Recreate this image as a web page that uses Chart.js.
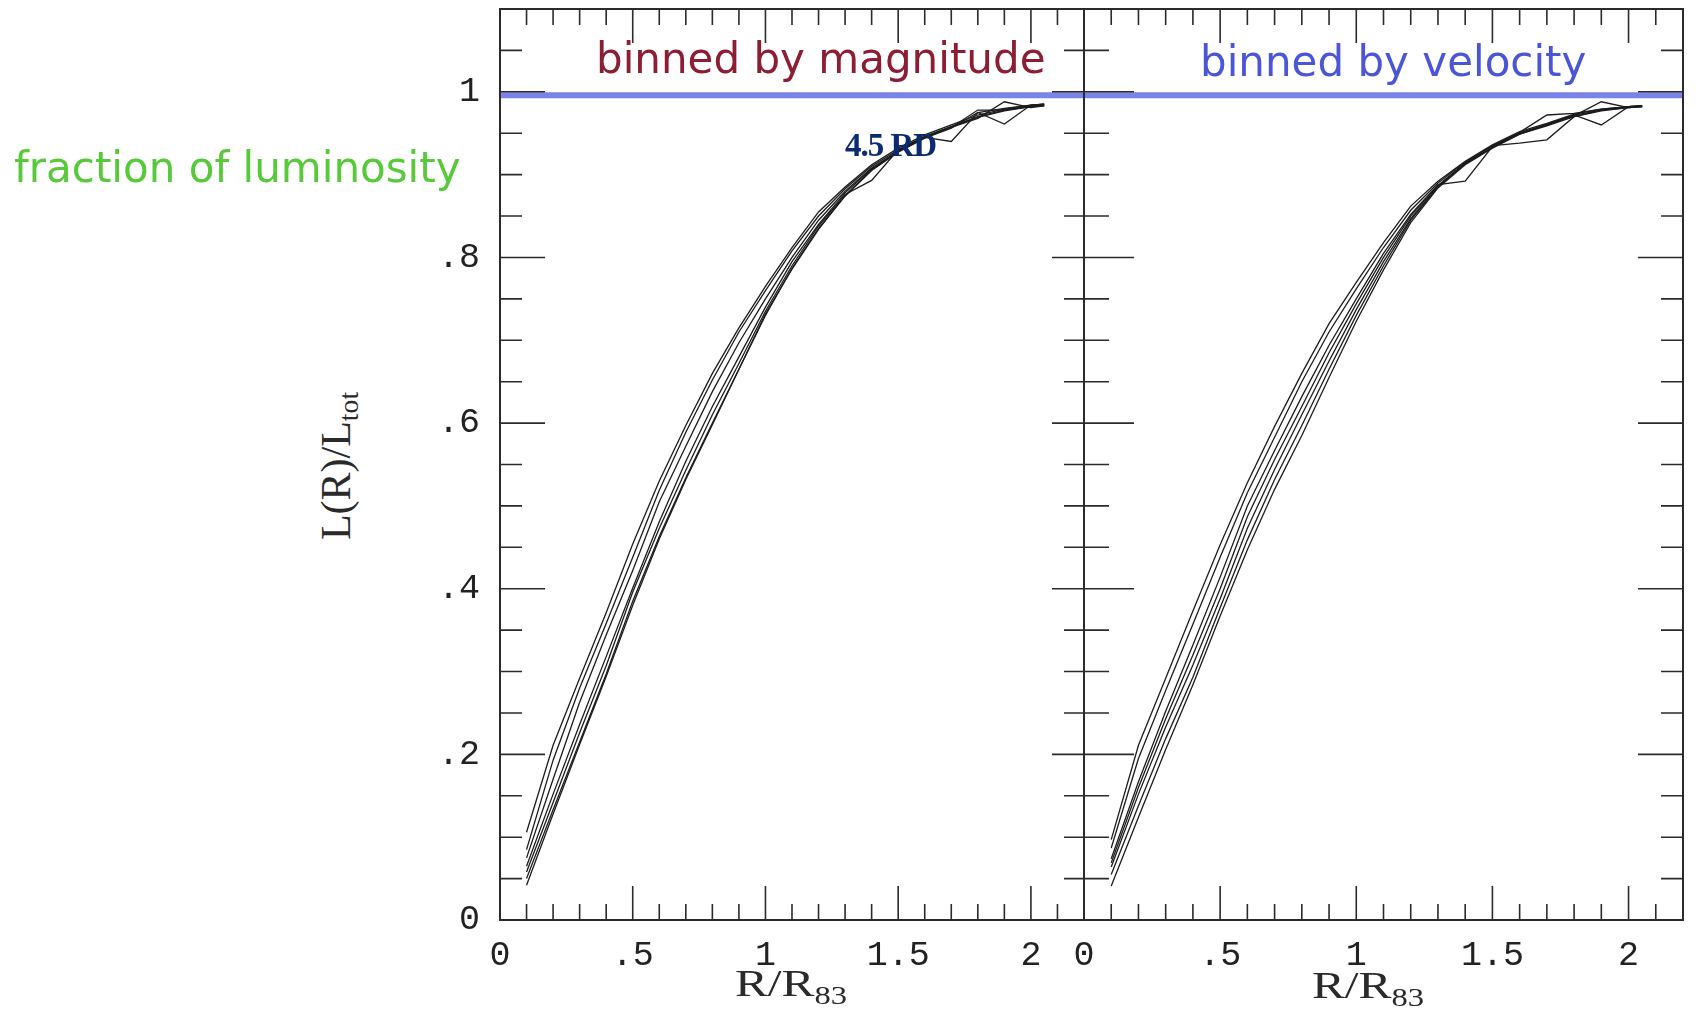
<!DOCTYPE html>
<html>
<head>
<meta charset="utf-8">
<script src="https://cdn.jsdelivr.net/npm/chart.js@4.4.1/dist/chart.umd.min.js"></script>
<style>
  html, body { margin: 0; padding: 0; background: #fff; }
  body { position: relative; width: 1700px; height: 1009px; overflow: hidden; }
  canvas { position: absolute; top: 0; }
  #magChart { left: 380px; }
  #velChart { left: 1040px; }
  .note { position: absolute; white-space: nowrap; line-height: 1; }
  .bin-title { font-family: "DejaVu Sans", sans-serif; font-size: 42px; }
  .axis-title { font-family: "Liberation Serif", serif; font-size: 38px; color: #2a2a2a; }
  .axis-title sub { font-size: 0.66em; vertical-align: -0.3em; line-height: 0; }
</style>
</head>
<body>
<canvas id="magChart" width="720" height="1009"></canvas>
<canvas id="velChart" width="660" height="1009"></canvas>

<div class="note bin-title" style="left:596px; top:38px; color:#8c1d33;">binned by magnitude</div>
<div class="note bin-title" style="left:1200px; top:41px; color:#4b56d6;">binned by velocity</div>
<div class="note bin-title" style="left:14px; top:147px; color:#58c93b;">fraction of luminosity</div>
<div class="note" style="left:845px; top:127px; font: bold 33px 'Liberation Serif', serif; letter-spacing:-1px; color:#0b2a72;">4.5 RD</div>

<div class="note axis-title" style="left:336px; top:466px; font-size:42px; transform: translate(-50%, -50%) rotate(-90deg);">L(R)/L<sub>tot</sub></div>
<div class="note axis-title" style="left:791px; top:964px; transform: translateX(-50%) scaleX(1.3);">R/R<sub>83</sub></div>
<div class="note axis-title" style="left:1368px; top:966px; transform: translateX(-50%) scaleX(1.3);">R/R<sub>83</sub></div>

<script>
// radius in units of R83, shared by every profile
const radius = [0.1, 0.2, 0.3, 0.4, 0.5, 0.6, 0.7, 0.8, 0.9, 1.0, 1.1, 1.2, 1.3, 1.4, 1.5, 1.6, 1.7, 1.8, 1.9, 2.0, 2.05];

// cumulative light profiles, binned by magnitude
const magA = [0.106, 0.211, 0.292, 0.371, 0.454, 0.530, 0.597, 0.660, 0.715, 0.765, 0.812, 0.855, 0.885, 0.912, 0.932, 0.948, 0.960, 0.972, 0.979, 0.984, 0.985];
const magB = [0.085, 0.193, 0.280, 0.358, 0.438, 0.519, 0.589, 0.652, 0.710, 0.760, 0.808, 0.850, 0.883, 0.910, 0.930, 0.946, 0.958, 0.970, 0.978, 0.983, 0.984];
const magC = [0.075, 0.170, 0.263, 0.344, 0.422, 0.505, 0.572, 0.638, 0.697, 0.750, 0.800, 0.845, 0.880, 0.908, 0.928, 0.945, 0.940, 0.975, 0.980, 0.984, 0.985];
const magD = [0.065, 0.152, 0.236, 0.318, 0.401, 0.481, 0.554, 0.620, 0.680, 0.740, 0.795, 0.840, 0.878, 0.907, 0.928, 0.945, 0.957, 0.978, 0.978, 0.982, 0.984];
const magE = [0.058, 0.142, 0.226, 0.307, 0.396, 0.473, 0.543, 0.610, 0.672, 0.735, 0.790, 0.838, 0.876, 0.893, 0.930, 0.946, 0.958, 0.969, 0.977, 0.982, 0.983];
const magF = [0.050, 0.133, 0.215, 0.297, 0.385, 0.463, 0.534, 0.600, 0.665, 0.730, 0.787, 0.835, 0.874, 0.905, 0.927, 0.944, 0.956, 0.975, 0.961, 0.984, 0.985];
const magG = [0.042, 0.128, 0.212, 0.294, 0.380, 0.460, 0.532, 0.598, 0.665, 0.732, 0.786, 0.834, 0.875, 0.906, 0.929, 0.945, 0.957, 0.968, 0.988, 0.981, 0.983];

// cumulative light profiles, binned by velocity
const velA = [0.097, 0.211, 0.292, 0.373, 0.453, 0.528, 0.596, 0.660, 0.720, 0.770, 0.818, 0.862, 0.892, 0.916, 0.936, 0.952, 0.962, 0.973, 0.979, 0.982, 0.983];
const velB = [0.087, 0.195, 0.277, 0.357, 0.438, 0.516, 0.583, 0.650, 0.710, 0.762, 0.812, 0.857, 0.890, 0.915, 0.935, 0.951, 0.972, 0.974, 0.979, 0.982, 0.983];
const velC = [0.074, 0.167, 0.252, 0.332, 0.414, 0.500, 0.567, 0.632, 0.694, 0.750, 0.805, 0.852, 0.888, 0.892, 0.934, 0.950, 0.961, 0.972, 0.978, 0.981, 0.982];
const velD = [0.069, 0.160, 0.243, 0.320, 0.400, 0.487, 0.556, 0.620, 0.685, 0.744, 0.800, 0.850, 0.887, 0.914, 0.935, 0.938, 0.942, 0.970, 0.978, 0.982, 0.983];
const velE = [0.064, 0.152, 0.233, 0.308, 0.388, 0.473, 0.544, 0.610, 0.675, 0.737, 0.795, 0.847, 0.886, 0.913, 0.933, 0.950, 0.960, 0.972, 0.960, 0.982, 0.983];
const velF = [0.055, 0.138, 0.219, 0.293, 0.377, 0.459, 0.532, 0.597, 0.665, 0.730, 0.790, 0.845, 0.885, 0.913, 0.933, 0.949, 0.960, 0.971, 0.988, 0.981, 0.982];
const velG = [0.041, 0.124, 0.206, 0.284, 0.367, 0.447, 0.520, 0.585, 0.655, 0.723, 0.785, 0.842, 0.884, 0.912, 0.932, 0.949, 0.959, 0.970, 0.977, 0.981, 0.982];

// tick positions and labels
const xLabelValues = [0, 0.5, 1, 1.5, 2];
const yLabelValues = [0, 0.2, 0.4, 0.6, 0.8, 1];
const xMinorTicks = [0.1, 0.2, 0.3, 0.4, 0.5, 0.6, 0.7, 0.8, 0.9, 1.0, 1.1, 1.2, 1.3, 1.4, 1.5, 1.6, 1.7, 1.8, 1.9, 2.0, 2.1];
const xMajorTicks = [0.5, 1.0, 1.5, 2.0];
const yMinorTicks = [0.05, 0.1, 0.15, 0.2, 0.25, 0.3, 0.35, 0.4, 0.45, 0.5, 0.55, 0.6, 0.65, 0.7, 0.75, 0.8, 0.85, 0.9, 0.95, 1.0, 1.05];
const yMajorTicks = [0.2, 0.4, 0.6, 0.8, 1.0];

// the highlighted total-light level
const totalLevel = 0.996;

const isMajor = (list, v) => list.some(m => Math.abs(m - v) < 1e-6);

// ".5" style labels, no leading zero
function plotterLabel(v) {
  if (v === 0) return "0";
  return v < 1 ? String(v).replace(/^0/, "") : String(v);
}

// box frame with inward ticks on every side, like the old plotter output
const frameTicks = {
  id: "frameTicks",
  afterDatasetsDraw(chart, args, opts) {
    const { ctx, chartArea: a } = chart;
    const x = chart.scales.x;
    const y = chart.scales.y;
    ctx.save();
    ctx.strokeStyle = "#2b2b2b";
    ctx.lineWidth = 2;
    ctx.strokeRect(a.left, a.top, a.right - a.left, a.bottom - a.top);

    ctx.lineWidth = 1.6;
    ctx.beginPath();
    xMinorTicks.forEach(v => {
      const px = x.getPixelForValue(v);
      const len = isMajor(xMajorTicks, v) ? 34 : 16;
      ctx.moveTo(px, a.bottom);
      ctx.lineTo(px, a.bottom - len);
      ctx.moveTo(px, a.top);
      ctx.lineTo(px, a.top + len);
    });
    yMinorTicks.forEach(v => {
      const py = y.getPixelForValue(v);
      const major = isMajor(yMajorTicks, v);
      opts.sides.forEach(side => {
        const len = major ? side.major : side.minor;
        const x0 = side.edge === "left" ? a.left : a.right;
        const dir = side.edge === "left" ? 1 : -1;
        ctx.moveTo(x0, py);
        ctx.lineTo(x0 + dir * len, py);
      });
    });
    ctx.stroke();
    ctx.restore();
  }
};

function profileDatasets(rows) {
  const lines = rows.map(row => ({
    data: row.map((v, i) => ({ x: radius[i], y: v })),
    borderColor: "#1c1c1c",
    borderWidth: 1.3,
    pointRadius: 0,
    tension: 0,
    fill: false
  }));
  lines.push({
    data: [{ x: 0, y: totalLevel }, { x: 2.2, y: totalLevel }],
    borderColor: "rgba(84, 96, 224, 0.78)",
    borderWidth: 6,
    pointRadius: 0,
    fill: false
  });
  return lines;
}

const tickFont = { family: "'Liberation Mono', monospace", size: 35 };

function panelOptions(showYLabels, padding, sides) {
  return {
    responsive: false,
    animation: false,
    devicePixelRatio: 1,
    layout: { padding },
    plugins: {
      legend: { display: false },
      tooltip: { enabled: false },
      frameTicks: { sides }
    },
    scales: {
      x: {
        type: "linear",
        min: 0,
        max: 2.2,
        grid: { display: false },
        border: { display: false },
        afterBuildTicks: s => { s.ticks = xLabelValues.map(v => ({ value: v })); },
        afterFit: s => { s.height = 89; s.paddingLeft = 0; s.paddingRight = 0; },
        ticks: { autoSkip: false, maxRotation: 0, padding: 7, color: "#222", font: tickFont, callback: plotterLabel }
      },
      y: {
        type: "linear",
        min: 0,
        max: 1.1,
        display: showYLabels,
        grid: { display: false },
        border: { display: false },
        afterBuildTicks: s => { s.ticks = yLabelValues.map(v => ({ value: v })); },
        afterFit: s => { s.width = showYLabels ? 120 : 0; s.paddingTop = 0; s.paddingBottom = 0; },
        ticks: { autoSkip: false, padding: 12, color: "#222", font: tickFont, callback: plotterLabel }
      }
    }
  };
}

new Chart(document.getElementById("magChart"), {
  type: "line",
  data: { datasets: profileDatasets([magA, magB, magC, magD, magE, magF, magG]) },
  options: panelOptions(true, { top: 9, right: 16, left: 0, bottom: 0 }, [
    { edge: "left", minor: 22, major: 45 },
    { edge: "right", minor: 20, major: 32 }
  ]),
  plugins: [frameTicks]
});

new Chart(document.getElementById("velChart"), {
  type: "line",
  data: { datasets: profileDatasets([velA, velB, velC, velD, velE, velF, velG]) },
  options: panelOptions(false, { top: 9, right: 17, left: 44, bottom: 0 }, [
    { edge: "left", minor: 25, major: 50 },
    { edge: "right", minor: 22, major: 45 }
  ]),
  plugins: [frameTicks]
});
</script>
</body>
</html>
